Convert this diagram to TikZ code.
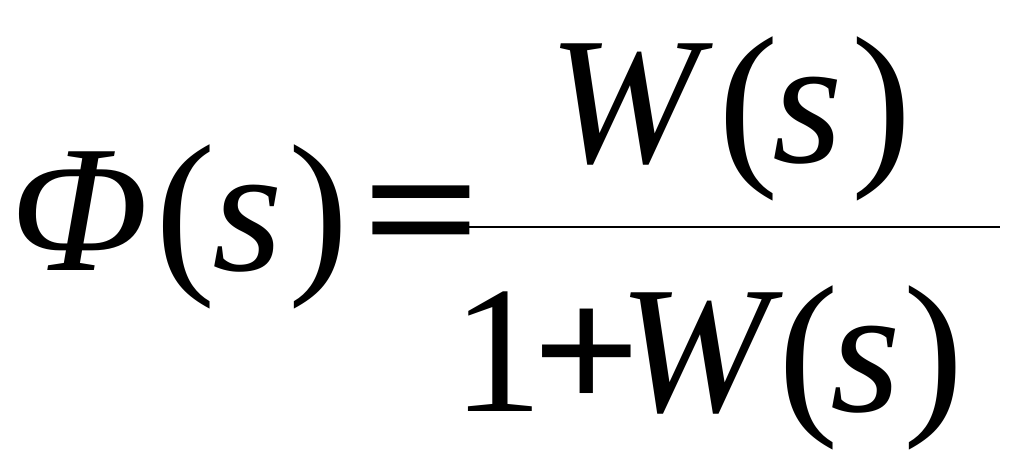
\documentclass[tikz,border=0pt]{standalone}
\usepackage{fontspec}
\setmainfont{Liberation Serif}
\usetikzlibrary{positioning}
\begin{document}
\begin{tikzpicture}[x=0.75pt,y=0.75pt,yscale=-1]
\tikzset{big/.style={inner sep=0pt, anchor=base west, font=\fontsize{136}{136}\selectfont}}
\useasboundingbox (0,0) rectangle (1024,472);
% Text Node: left side
\node[big] (phi) at (10,270) {\textit{Φ}};
\node[big] (lpar) at (155,270) {(};
\node[big] (ls) at (212,270) {\textit{s}};
\node[big] (rpar) at (288,270) {)};
\node[big, xscale=1.15] (eq) at (362,270) {\textbf{=}};
% Text Node: numerator
\node[big] (numW) at (548,162) {\textit{W}};
\node[big] (numL) at (718,162) {(};
\node[big] (numS) at (772,162) {\textit{s}};
\node[big] (numR) at (851,162) {)};
% Text Node: denominator
\node[big] (one) at (452,411) {1};
\node[big, xscale=1.05] (plus) at (532,411) {\textbf{+}};
\node[big] (denW) at (618,411) {\textit{W}};
\node[big] (denL) at (778,411) {(};
\node[big] (denS) at (830,411) {\textit{s}};
\node[big] (denR) at (903,411) {)};
% fraction bar
\coordinate (barL) at (460,227);
\coordinate (barR) at (1000,227);
\draw[line width=1.5pt] (barL) -- (barR);
\end{tikzpicture}
\end{document}
